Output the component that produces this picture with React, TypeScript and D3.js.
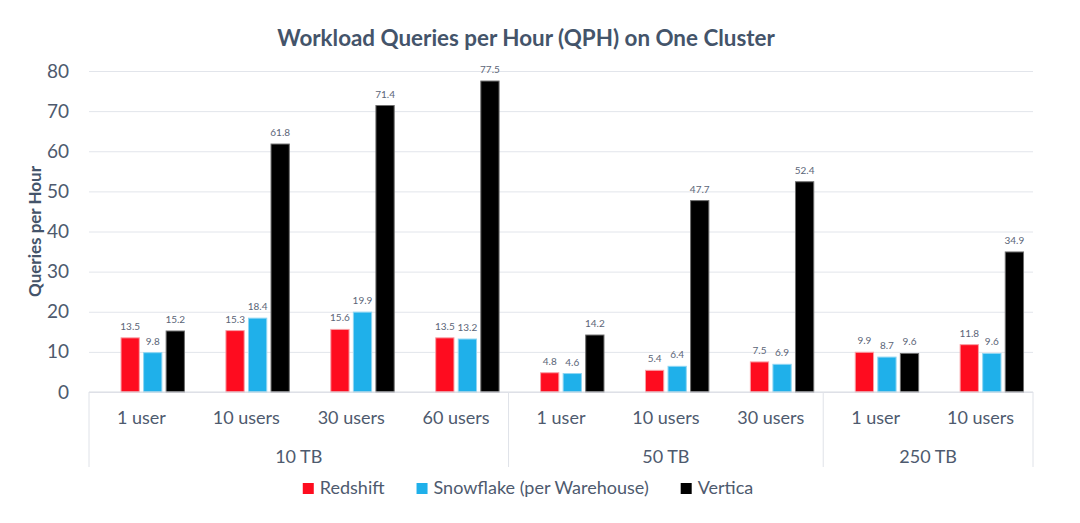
import React, { useEffect, useRef } from "react";
import * as d3 from "d3";

// chart data
const groups = ["10 TB", "50 TB", "250 TB"];
const userLevels = [
    ["1 user", "10 users", "30 users", "60 users"],
    ["1 user", "10 users", "30 users"],
    ["1 user", "10 users"],
];
const seriesNames = ["Redshift", "Snowflake (per Warehouse)", "Vertica"];
const redshift = [13.5, 15.3, 15.6, 13.5, 4.8, 5.4, 7.5, 9.9, 11.8];
const snowflake = [9.8, 18.4, 19.9, 13.2, 4.6, 6.4, 6.9, 8.7, 9.6];
const vertica = [15.2, 61.8, 71.4, 77.5, 14.2, 47.7, 52.4, 9.6, 34.9];
const yTicks = [0, 10, 20, 30, 40, 50, 60, 70, 80];

const colors = ["#FE0C1F", "#1FB0EA", "#000000"];
const strokes = ["#F9A0A6", "#8ED6F3", "#6E6E6E"];

const W = 1080;
const H = 523;
const FONT = "Lato, 'Open Sans', sans-serif";
const TEXT = "#4E5A6E";
const TITLE = "#44546A";

const App: React.FC = () => {
    const svgRef = useRef<SVGSVGElement>(null);

    useEffect(() => {
        if (!svgRef.current) return;
        const svg = d3.select(svgRef.current);
        svg.selectAll("*").remove();

        const margin = { top: 71, left: 89, right: 47, bottom: 131 };
        const width = W - margin.left - margin.right;
        const height = H - margin.top - margin.bottom;

        // flat list of categories, each knowing its group
        const cats: { id: string; group: string; label: string; i: number }[] = [];
        groups.forEach((g, gi) => {
            userLevels[gi].forEach(label => {
                cats.push({ id: `${g}|${label}`, group: g, label, i: cats.length });
            });
        });
        const values = [redshift, snowflake, vertica];

        const x = d3.scaleBand()
            .domain(cats.map(c => c.id))
            .range([0, width])
            .padding(0);

        // the source chart leaves an empty first slot in every cluster, so bars sit right of centre
        const x1 = d3.scaleBand()
            .domain(["", ...seriesNames])
            .range([0, x.bandwidth()])
            .paddingInner(0.19)
            .paddingOuter(0.42);

        const y = d3.scaleLinear()
            .domain([0, 80])
            .range([height, 0]);

        const g = svg.append("g")
            .attr("transform", `translate(${margin.left},${margin.top})`);

        // title
        svg.append("text")
            .attr("x", 526)
            .attr("y", 46)
            .attr("text-anchor", "middle")
            .attr("font-family", FONT)
            .attr("font-weight", "bold")
            .attr("font-size", "22.4px")
            .attr("fill", TITLE)
            .text("Workload Queries per Hour (QPH) on One Cluster");

        // y axis with grid lines
        const yAxis = g.append("g")
            .call(d3.axisLeft(y).tickValues(yTicks).tickSize(-width).tickPadding(20));
        yAxis.select(".domain").remove();
        yAxis.selectAll(".tick line")
            .attr("stroke", "#E2E5EB")
            .attr("stroke-width", 1);
        yAxis.selectAll(".tick text")
            .attr("font-family", FONT)
            .attr("font-size", "19px")
            .attr("fill", TEXT);

        // y axis title
        svg.append("text")
            .attr("transform", `translate(41,${margin.top + height / 2}) rotate(-90)`)
            .attr("text-anchor", "middle")
            .attr("font-family", FONT)
            .attr("font-weight", "bold")
            .attr("font-size", "17px")
            .attr("fill", TITLE)
            .text("Queries per Hour");

        // bars
        seriesNames.forEach((name, si) => {
            const sg = g.append("g").attr("class", "series");
            sg.selectAll("rect")
                .data(cats)
                .enter()
                .append("rect")
                .attr("x", c => (x(c.id) || 0) + (x1(name) || 0))
                .attr("y", c => y(values[si][c.i]))
                .attr("width", x1.bandwidth())
                .attr("height", c => height - y(values[si][c.i]))
                .attr("fill", colors[si])
                .attr("stroke", strokes[si])
                .attr("stroke-width", 1);

            sg.selectAll("text")
                .data(cats)
                .enter()
                .append("text")
                .attr("x", c => (x(c.id) || 0) + (x1(name) || 0) + x1.bandwidth() / 2)
                .attr("y", c => y(values[si][c.i]) - 8)
                .attr("text-anchor", "middle")
                .attr("font-family", FONT)
                .attr("font-size", "10px")
                .attr("fill", "#5B6577")
                .text(c => values[si][c.i].toFixed(1));
        });

        // x axis base line
        g.append("line")
            .attr("x1", 0)
            .attr("x2", width)
            .attr("y1", height)
            .attr("y2", height)
            .attr("stroke", "#D9DCE3");

        // category labels
        g.selectAll(".cat-label")
            .data(cats)
            .enter()
            .append("text")
            .attr("class", "cat-label")
            .attr("x", c => (x(c.id) || 0) + x.bandwidth() / 2)
            .attr("y", height + 32)
            .attr("text-anchor", "middle")
            .attr("font-family", FONT)
            .attr("font-size", "18px")
            .attr("fill", TEXT)
            .text(c => c.label);

        // group separators and labels
        const bounds: number[] = [0];
        groups.forEach((gName) => {
            const members = cats.filter(c => c.group === gName);
            const start = x(members[0].id) || 0;
            const end = (x(members[members.length - 1].id) || 0) + x.bandwidth();
            bounds.push(end);
            g.append("text")
                .attr("x", (start + end) / 2)
                .attr("y", height + 71)
                .attr("text-anchor", "middle")
                .attr("font-family", FONT)
                .attr("font-size", "18px")
                .attr("fill", TEXT)
                .text(gName);
        });
        g.selectAll(".sep")
            .data(bounds)
            .enter()
            .append("line")
            .attr("class", "sep")
            .attr("x1", d => d)
            .attr("x2", d => d)
            .attr("y1", height)
            .attr("y2", height + 75)
            .attr("stroke", "#DFE2E8");

        // legend, laid out from measured text widths
        const legend = svg.append("g");
        let cursor = 0;
        seriesNames.forEach((name, si) => {
            const item = legend.append("g").attr("transform", `translate(${cursor},0)`);
            item.append("rect")
                .attr("x", 0)
                .attr("y", -11)
                .attr("width", 11)
                .attr("height", 11)
                .attr("fill", colors[si]);
            const t = item.append("text")
                .attr("x", 17)
                .attr("y", 0)
                .attr("font-family", FONT)
                .attr("font-size", "18px")
                .attr("fill", TEXT)
                .text(name);
            const tw = (t.node() as SVGTextElement).getComputedTextLength();
            cursor += 17 + tw + 32;
        });
        const legendWidth = cursor - 32;
        legend.attr("transform", `translate(${528 - legendWidth / 2},494)`);
    }, []);

    return (
        <svg
            ref={svgRef}
            width={W}
            height={H}
            style={{ position: "absolute", top: 0, left: 0, background: "#fff" }}
        />
    );
};

export default App;
